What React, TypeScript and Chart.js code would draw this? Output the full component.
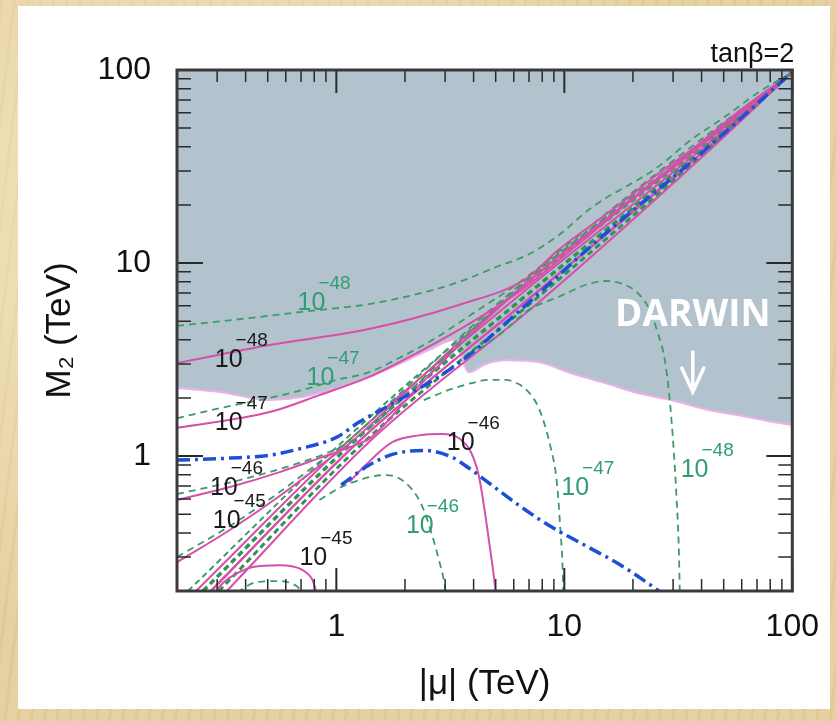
import React, { useEffect, useRef } from "react";
import { Chart, registerables } from "chart.js";

Chart.register(...registerables);

type Pt = [number, number];

const FONT = "'Liberation Sans', Arial, Helvetica, sans-serif";

// ---- axes ----
const X_MIN = 0.2;
const X_MAX = 100;
const Y_MIN = 0.2;
const Y_MAX = 100;
const xTickValues = [1, 10, 100];
const yTickValues = [1, 10, 100];
const minorMultipliers = [2, 3, 4, 5, 6, 7, 8, 9];
const decadeStarts = [0.1, 1, 10, 100];

// ---- DARWIN reach (shaded above) ----
const darwinLimit: Pt[] = [
  [0.2, 2.25], [0.308, 2.15], [0.51, 1.95], [0.71, 2.02], [1.0, 2.25], [1.393, 2.57],
  [1.884, 3.0], [2.547, 3.54], [3.275, 3.99], [3.81, 2.72], [4.52, 3.0], [5.53, 3.14],
  [7.7, 3.07], [10.95, 2.66], [15.1, 2.39], [21.0, 2.12], [29.3, 1.95], [41.3, 1.75],
  [57.5, 1.63], [77.8, 1.52], [100, 1.45],
];

// ---- contours above the diagonal ----
const green48Upper: Pt[] = [
  [0.2, 4.72], [0.417, 5.19], [0.689, 5.57], [1.39, 6.13], [2.55, 7.16], [3.44, 7.97],
  [5.15, 9.65], [6.76, 10.9], [9.42, 13.9], [13.1, 19.3], [25.7, 31.4], [35.9, 43.4],
  [50.5, 57.1], [70.3, 76.0], [100, 97.6],
];
const magenta48Upper: Pt[] = [
  [0.2, 3.03], [0.51, 3.76], [1.39, 4.55], [3.44, 6.06], [6.76, 8.26], [9.42, 11.7],
  [13.1, 15.7], [18.5, 21.2], [25.7, 28.9], [35.9, 38.5], [59.3, 62.0], [100, 97.6],
];
const green47Upper: Pt[] = [
  [0.2, 1.57], [0.308, 1.77], [0.51, 2.0], [0.71, 2.2], [1.0, 2.48], [1.393, 2.72],
  [1.884, 3.22], [2.73, 4.09], [4.0, 5.51], [6.3, 7.88], [11.5, 13.8], [23.3, 26.9],
  [47.0, 50.7], [100, 97.6],
];
const magenta47Upper: Pt[] = [
  [0.2, 1.4], [0.51, 1.69], [0.843, 2.07], [1.393, 2.57], [2.3, 3.46], [3.44, 4.5],
  [6.3, 7.07], [11.5, 12.5], [23.3, 25.1], [47.0, 48.9], [100, 97.6],
];
const green46Upper: Pt[] = [
  [0.2, 0.636], [0.377, 0.751], [0.623, 0.888], [0.932, 1.05], [1.26, 1.27], [2.08, 2.15],
  [5.69, 6.75], [38.5, 40.4], [100, 97.6],
];
const magenta46Upper: Pt[] = [
  [0.2, 0.592], [0.341, 0.691], [0.564, 0.826], [0.843, 0.976], [1.14, 1.11], [1.42, 1.25],
  [2.3, 2.31], [6.3, 7.25], [38.5, 39.4], [100, 97.6],
];
const green45Upper: Pt[] = [
  [0.2, 0.3], [0.341, 0.434], [0.564, 0.651], [0.843, 0.931], [1.14, 1.21], [1.85, 2.05],
  [5.31, 6.43], [37.3, 38.5], [100, 97.6],
];
const magenta45Upper: Pt[] = [
  [0.2, 0.282], [0.341, 0.414], [0.564, 0.621], [0.843, 0.888], [1.16, 1.18], [1.884, 2.0],
  [5.42, 6.28], [37.7, 38.5], [100, 97.6],
];
const blueUpper: Pt[] = [
  [0.2, 0.953], [0.341, 0.976], [0.51, 1.01], [0.689, 1.09], [1.0, 1.25], [1.26, 1.5],
  [1.884, 1.95], [3.44, 3.03], [5.99, 5.31], [14.1, 13.2], [40.5, 37.6], [100, 97.6],
];

// ---- the diagonal band (M2 ~ |mu|) ----
const band1: Pt[] = [[0.2235, 0.2], [1.084, 1.21], [5.58, 6.43], [38.5, 38.5], [100, 97.6]];
const band2: Pt[] = [[0.2423, 0.2], [1.14, 1.21], [5.99, 6.43], [39.5, 38.5], [100, 97.6]];
const band3: Pt[] = [[0.26, 0.2], [1.211, 1.21], [6.43, 6.43], [40.5, 38.5], [100, 97.6]];
const band4: Pt[] = [[0.2818, 0.2], [1.273, 1.21], [6.89, 6.43], [41.5, 38.5], [100, 97.6]];
const band5: Pt[] = [[0.3053, 0.2], [1.352, 1.21], [7.4, 6.43], [42.6, 38.5], [100, 97.6]];
const band6: Pt[] = [[0.3309, 0.2], [1.422, 1.21], [7.94, 6.43], [43.4, 38.5], [100, 97.6]];

// ---- contours below the diagonal ----
const green48Lower: Pt[] = [
  [3.81, 3.3], [5.31, 4.34], [6.96, 5.71], [9.42, 6.67], [12.7, 7.78], [15.1, 8.07],
  [18.1, 7.78], [21.0, 6.99], [23.7, 5.71], [25.7, 4.34], [27.6, 3.14], [29.0, 1.95],
  [30.2, 1.07], [31.1, 0.592], [31.8, 0.326], [32.1, 0.197],
];
const green47Lower: Pt[] = [
  [2.42, 1.95], [3.11, 2.2], [3.93, 2.39], [4.66, 2.48], [5.53, 2.48], [6.3, 2.36],
  [6.96, 2.15], [7.7, 1.79], [8.34, 1.36], [8.77, 1.07], [9.13, 0.846], [9.42, 0.592],
  [9.61, 0.414], [9.8, 0.289], [9.9, 0.197],
];
const green46Lower: Pt[] = [
  [0.843, 0.592], [1.03, 0.683], [1.26, 0.751], [1.47, 0.788], [1.65, 0.797], [1.94, 0.751],
  [2.24, 0.628], [2.42, 0.525], [2.63, 0.39], [2.82, 0.289], [2.96, 0.228], [3.02, 0.197],
];
const magenta46Lower: Pt[] = [
  [1.14, 0.733], [1.33, 0.888], [1.76, 1.18], [2.3, 1.28], [2.9, 1.3], [3.44, 1.24],
  [3.89, 1.05], [4.21, 0.797], [4.47, 0.525], [4.7, 0.346], [4.9, 0.242], [5.0, 0.197],
];
const blueLower: Pt[] = [
  [1.05, 0.708], [1.393, 0.898], [1.76, 1.02], [2.42, 1.07], [3.21, 0.988], [3.81, 0.867],
  [4.8, 0.708], [6.3, 0.557], [8.51, 0.439], [12.7, 0.338], [17.7, 0.272], [25.7, 0.202],
  [27.9, 0.188],
];
const magenta45Lower: Pt[] = [
  [0.293, 0.197], [0.318, 0.22], [0.377, 0.251], [0.43, 0.266], [0.564, 0.272], [0.71, 0.257],
  [0.786, 0.228], [0.818, 0.197],
];
const green45Lower: Pt[] = [
  [0.366, 0.197], [0.447, 0.2225], [0.564, 0.225], [0.669, 0.212], [0.71, 0.197],
];

// ---- contour labels: 10^exp, anchored at the baseline-left of "10" ----
const contourLabels = [
  { exp: "\u221248", x: 0.676, y: 5.71, tone: "green" },
  { exp: "\u221248", x: 0.293, y: 2.89, tone: "black" },
  { exp: "\u221247", x: 0.74, y: 2.33, tone: "green" },
  { exp: "\u221247", x: 0.293, y: 1.36, tone: "black" },
  { exp: "\u221246", x: 0.279, y: 0.628, tone: "black" },
  { exp: "\u221245", x: 0.287, y: 0.424, tone: "black" },
  { exp: "\u221245", x: 0.689, y: 0.272, tone: "black" },
  { exp: "\u221246", x: 3.05, y: 1.07, tone: "black" },
  { exp: "\u221246", x: 2.02, y: 0.399, tone: "green" },
  { exp: "\u221247", x: 9.7, y: 0.628, tone: "green" },
  { exp: "\u221248", x: 32.4, y: 0.778, tone: "green" },
];
const darwinLabel = { text: "DARWIN", x: 36.6, y: 5.38 };
const darwinArrow = { x: 36.6, yTop: 3.46, yTip: 2.15, yWing: 2.86 };
const cornerNote = "tan\u03b2=2";

const MAGENTA = "#d64fab";
const GREEN = "#3d9c63";
const BAND_GREEN = "#2e9650";
const BLUE = "#1e4fd8";
const LABEL_GREEN = "#2f9e72";
const LABEL_BLACK = "#1a1a1a";

const toData = (pts: Pt[]) => pts.map(([x, y]) => ({ x, y }));

function line(pts: Pt[], color: string, width: number, dash: number[], order: number) {
  return {
    type: "line" as const,
    data: toData(pts),
    borderColor: color,
    borderWidth: width,
    borderDash: dash,
    pointRadius: 0,
    fill: false,
    cubicInterpolationMode: "monotone",
    order,
  };
}

const framePlugin = {
  id: "framePlugin",
  afterDatasetsDraw(chart: any) {
    const { ctx, chartArea: a, scales } = chart;
    const xs = scales.x;
    const ys = scales.y;
    ctx.save();
    ctx.strokeStyle = "#2a2a2a";
    // inward ticks
    for (const d of decadeStarts) {
      for (const m of [1, ...minorMultipliers]) {
        const v = d * m;
        const major = m === 1;
        if (v >= X_MIN - 1e-9 && v <= X_MAX + 1e-9) {
          const px = xs.getPixelForValue(v);
          const len = major ? 23 : 12;
          ctx.lineWidth = major ? 2 : 1.5;
          ctx.beginPath();
          ctx.moveTo(px, a.bottom);
          ctx.lineTo(px, a.bottom - len);
          ctx.moveTo(px, a.top);
          ctx.lineTo(px, a.top + len);
          ctx.stroke();
        }
        if (v >= Y_MIN - 1e-9 && v <= Y_MAX + 1e-9) {
          const py = ys.getPixelForValue(v);
          const len = major ? 26 : 14;
          ctx.lineWidth = major ? 2 : 1.5;
          ctx.beginPath();
          ctx.moveTo(a.left, py);
          ctx.lineTo(a.left + len, py);
          ctx.moveTo(a.right, py);
          ctx.lineTo(a.right - len, py);
          ctx.stroke();
        }
      }
    }
    // frame
    ctx.lineWidth = 3;
    ctx.strokeStyle = "#3a3a3a";
    ctx.strokeRect(a.left, a.top, a.right - a.left, a.bottom - a.top);

    // contour labels
    ctx.textAlign = "left";
    ctx.textBaseline = "alphabetic";
    for (const lab of contourLabels) {
      const px = xs.getPixelForValue(lab.x);
      const py = ys.getPixelForValue(lab.y);
      ctx.fillStyle = lab.tone === "green" ? LABEL_GREEN : LABEL_BLACK;
      ctx.font = `25px ${FONT}`;
      ctx.fillText("10", px, py);
      const w = ctx.measureText("10").width;
      ctx.font = `19px ${FONT}`;
      ctx.fillText(lab.exp, px + w - 7, py - 21);
    }

    // corner note
    ctx.fillStyle = "#111";
    ctx.font = `27px ${FONT}`;
    ctx.textAlign = "right";
    ctx.fillText(cornerNote, a.right + 2, a.top - 8);

    // DARWIN label and arrow
    ctx.fillStyle = "#ffffff";
    ctx.font = `bold 37px 'Open Sans', ${FONT}`;
    ctx.textAlign = "center";
    ctx.textBaseline = "middle";
    ctx.fillText(darwinLabel.text, xs.getPixelForValue(darwinLabel.x), ys.getPixelForValue(darwinLabel.y));
    const ax = xs.getPixelForValue(darwinArrow.x);
    const aTop = ys.getPixelForValue(darwinArrow.yTop);
    const aTip = ys.getPixelForValue(darwinArrow.yTip);
    const aWing = ys.getPixelForValue(darwinArrow.yWing);
    ctx.strokeStyle = "#ffffff";
    ctx.lineWidth = 3.5;
    ctx.lineCap = "round";
    ctx.beginPath();
    ctx.moveTo(ax, aTop);
    ctx.lineTo(ax, aTip);
    ctx.moveTo(ax - 11, aWing);
    ctx.lineTo(ax, aTip);
    ctx.lineTo(ax + 11, aWing);
    ctx.stroke();
    ctx.restore();
  },
};

export default function App() {
  const ref = useRef<HTMLCanvasElement | null>(null);

  useEffect(() => {
    document.body.style.margin = "0";
    const canvas = ref.current;
    if (!canvas) return;

    const datasets: any[] = [
      {
        type: "line",
        data: toData(darwinLimit),
        borderColor: "#eeb0ea",
        borderWidth: 2,
        backgroundColor: "#b3c3ce",
        fill: "end",
        pointRadius: 0,
        cubicInterpolationMode: "monotone",
        order: 100,
      },
      // band
      line(band1, GREEN, 2, [6, 4], 50),
      line(band2, MAGENTA, 2, [], 49),
      line(band3, BAND_GREEN, 3.5, [6, 4], 48),
      line(band4, MAGENTA, 2.5, [], 47),
      line(band5, BAND_GREEN, 3, [6, 4], 46),
      line(band6, MAGENTA, 2, [], 45),
      // upper contours
      line(green48Upper, GREEN, 1.8, [7, 5], 20),
      line(magenta48Upper, MAGENTA, 2, [], 20),
      line(green47Upper, GREEN, 1.8, [7, 5], 20),
      line(magenta47Upper, MAGENTA, 2, [], 20),
      line(green46Upper, GREEN, 1.8, [7, 5], 20),
      line(magenta46Upper, MAGENTA, 2, [], 20),
      line(green45Upper, GREEN, 1.8, [7, 5], 20),
      line(magenta45Upper, MAGENTA, 2, [], 20),
      // lower contours
      line(green48Lower, GREEN, 1.8, [7, 5], 20),
      line(green47Lower, GREEN, 1.8, [7, 5], 20),
      line(green46Lower, GREEN, 1.8, [7, 5], 20),
      line(magenta46Lower, MAGENTA, 2, [], 20),
      line(magenta45Lower, MAGENTA, 2, [], 20),
      line(green45Lower, GREEN, 1.8, [7, 5], 20),
      // blue limit
      line(blueUpper, BLUE, 3.5, [13, 5, 3, 5], 5),
      line(blueLower, BLUE, 3.5, [13, 5, 3, 5], 5),
    ];

    const chart = new Chart(canvas, {
      type: "line",
      data: { datasets },
      options: {
        responsive: false,
        animation: false,
        devicePixelRatio: 1,
        layout: { padding: { left: 0, right: 41, top: 70, bottom: 0 } },
        plugins: {
          legend: { display: false },
          tooltip: { enabled: false },
          title: { display: false },
        },
        scales: {
          x: {
            type: "logarithmic",
            min: X_MIN,
            max: X_MAX,
            position: "bottom",
            grid: { display: false, drawTicks: false },
            border: { display: false },
            afterBuildTicks: (s: any) => {
              s.ticks = xTickValues.map((v) => ({ value: v }));
            },
            afterFit: (s: any) => {
              s.height = 130;
            },
            ticks: {
              autoSkip: false,
              maxRotation: 0,
              padding: 17,
              color: "#111",
              font: { family: FONT, size: 32 },
              callback: (v: any) => String(v),
            },
            title: {
              display: true,
              text: "|\u03bc| (TeV)",
              color: "#111",
              font: { family: FONT, size: 35 },
              padding: { top: 0, bottom: 16 },
            },
          },
          y: {
            type: "logarithmic",
            min: Y_MIN,
            max: Y_MAX,
            position: "left",
            grid: { display: false, drawTicks: false },
            border: { display: false },
            afterBuildTicks: (s: any) => {
              s.ticks = yTickValues.map((v) => ({ value: v }));
            },
            afterFit: (s: any) => {
              s.width = 177;
            },
            ticks: {
              autoSkip: false,
              padding: 26,
              color: "#111",
              font: { family: FONT, size: 32 },
              callback: (v: any) => String(v),
            },
            title: {
              display: true,
              text: "M\u2082 (TeV)",
              color: "#111",
              font: { family: FONT, size: 35 },
              padding: { top: 39, bottom: 0 },
            },
          },
        },
      } as any,
      plugins: [framePlugin],
    } as any);

    return () => chart.destroy();
  }, []);

  return (
    <div
      style={{
        position: "fixed",
        left: 0,
        top: 0,
        width: 836,
        height: 721,
        overflow: "hidden",
        background:
          "radial-gradient(ellipse at 25% 30%, rgba(255,244,214,0.55), rgba(255,244,214,0) 60%), repeating-linear-gradient(97deg, rgba(150,110,50,0.08) 0px, rgba(150,110,50,0.08) 3px, rgba(0,0,0,0) 3px, rgba(0,0,0,0) 13px), #e6d1a2",
      }}
    >
      <div
        style={{ position: "absolute", left: 18, top: 6, width: 812, height: 703, background: "#ffffff" }}
      />
      <canvas
        ref={ref}
        width={836}
        height={721}
        style={{ position: "absolute", left: 0, top: 0, width: 836, height: 721 }}
      />
    </div>
  );
}
